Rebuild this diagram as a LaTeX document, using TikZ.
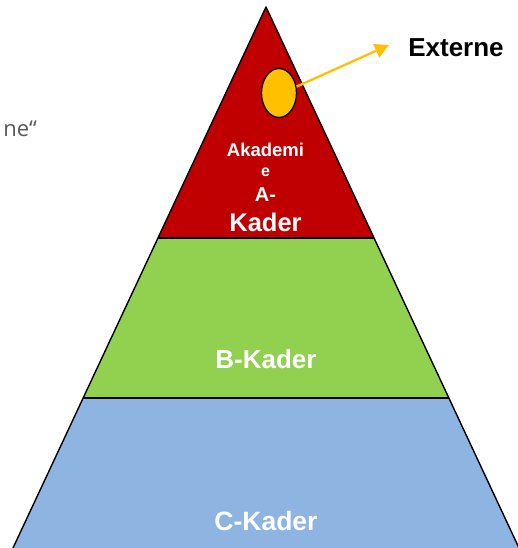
\documentclass[tikz,border=0pt]{standalone}
\usepackage{fontspec}
\setmainfont{Liberation Sans}
\newfontfamily\opensans{Open Sans}
\usetikzlibrary{arrows.meta,shapes.geometric}
\definecolor{kred}{HTML}{C00000}
\definecolor{kgreen}{HTML}{92D050}
\definecolor{kblue}{HTML}{8EB4E2}
\definecolor{kgold}{HTML}{FFC000}
\definecolor{kgrey}{HTML}{595959}
\begin{document}
\begin{tikzpicture}[x=1pt,y=1pt,
  layer/.style={draw=black,line width=1.4pt,line join=round},
  lbl/.style={text=white,font=\bfseries,anchor=base,inner sep=0pt}]
\useasboundingbox (0,0) rectangle (518,548);
% corner points
\coordinate (apex) at (266,541);
\coordinate (abL) at (158,310);
\coordinate (abR) at (374.3,310);
\coordinate (bcL) at (83.1,150);
\coordinate (bcR) at (449.1,150);
\coordinate (cL) at (13,0);
\coordinate (cR) at (519,0);
% layers
\fill[kblue] (bcL) -- (bcR) -- (cR) -- (cL) -- cycle;
\fill[kgreen] (abL) -- (abR) -- (bcR) -- (bcL) -- cycle;
\fill[kred] (apex) -- (abR) -- (abL) -- cycle;
\draw[layer] (cL) -- (apex) -- (cR);
\draw[layer] (abL) -- (abR);
\draw[layer] (bcL) -- (bcR);
% ellipse and arrow
\node[draw=black,line width=1.3pt,fill=kgold,ellipse,minimum width=35pt,minimum height=49pt,inner sep=0pt] (ext) at (279,455) {};
\coordinate (tip) at (389,503);
\draw[kgold,line width=2.3pt,-{Triangle[width=14pt,length=14pt]}] (ext.20) -- (tip);
\node[anchor=base,inner sep=0pt,font=\bfseries\fontsize{26}{30}\selectfont] (externe) at (456,491) {Externe};
% labels
\node[lbl,font=\bfseries\fontsize{18.5}{20}\selectfont] (akad) at (265.5,391) {Akademi};
\node[lbl,font=\bfseries\fontsize{16}{18}\selectfont] (akade) at (265.5,371) {e};
\node[lbl,font=\bfseries\fontsize{20}{22}\selectfont] (aa) at (265.5,346) {A-};
\node[lbl,font=\bfseries\fontsize{25.5}{28}\selectfont] (ak) at (265.5,316) {Kader};
\node[lbl,font=\bfseries\fontsize{26}{28}\selectfont] (bk) at (266,179) {B-Kader};
\node[lbl,font=\bfseries\fontsize{26.5}{28}\selectfont] (ck) at (266,17) {C-Kader};
\node[anchor=base east,inner sep=0pt,text=kgrey,font=\opensans\fontsize{22}{24}\selectfont] (ne) at (37,411) {ne“};
\end{tikzpicture}
\end{document}
